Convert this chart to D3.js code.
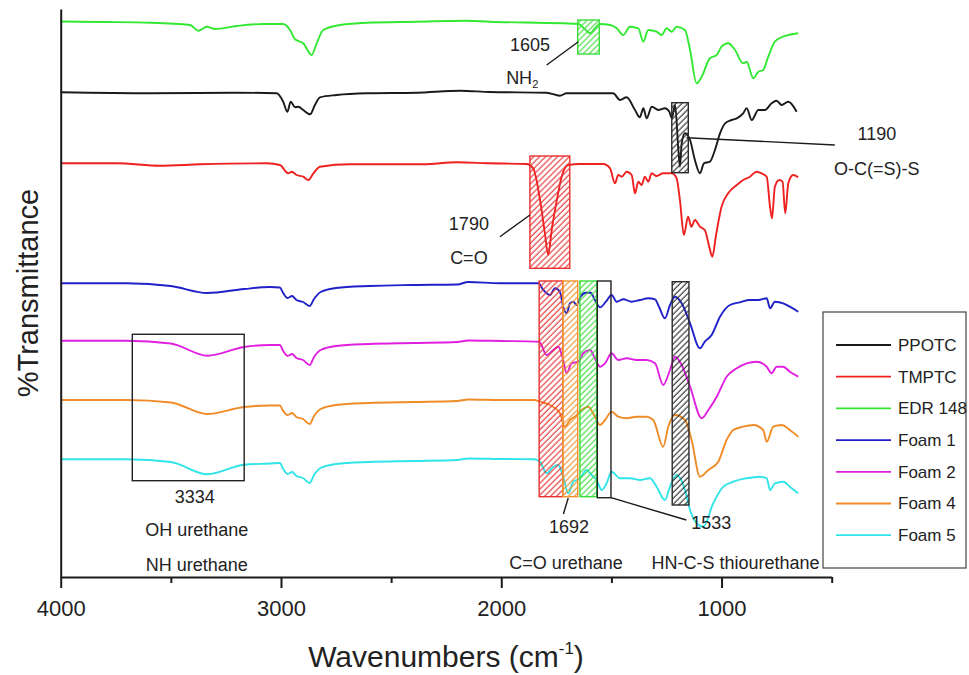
<!DOCTYPE html>
<html><head><meta charset="utf-8">
<script src="https://cdn.jsdelivr.net/npm/d3@7"></script>
<style>
body{margin:0;background:#fff}
svg{display:block}
text{font-family:"Liberation Sans",Arial,Helvetica,sans-serif;fill:#222}
</style>
</head><body>
<svg id="chart" width="969" height="675"></svg>
<script>
// ---------------- DATA (wavenumber cm-1, transmittance a.u. with stacking offsets) ----------------
const seriesNames = ["PPOTC","TMPTC","EDR 148","Foam 1","Foam 2","Foam 4","Foam 5"];

const ppotc = [[4000,484.7],[3595,483.7],[3200,484.3],[3020,483.7],[2990,475.3],[2971,465.3],[2956,475.3],[2936,469.7],[2921,470.3],[2899,467],[2868,462.7],[2846,472],[2823,479.7],[2747,482],[2611,483.7],[2384,484.3],[2187,486.3],[2051,485],[1794,484.3],[1734,481.3],[1703,483.7],[1492,483.7],[1461,477],[1431,479.7],[1393,467],[1371,459.7],[1355,468.7],[1340,458.7],[1317,470.3],[1287,467],[1257,468.7],[1237,465.3],[1226,458.7],[1211,472],[1196,427],[1189,410.3],[1181,433.7],[1166,443.7],[1143,437],[1121,417],[1098,403.7],[1080,413.7],[1053,415.3],[1030,427],[1007,443.7],[984,453.7],[954,457],[931,458.7],[902,463.7],[886,468.7],[863,457],[833,467],[803,467],[773,473.7],[750,476.3],[727,472],[697,475.3],[659,465.3]];

const tmptc = [[4000,413.7],[3746,413.7],[3549,411.3],[3368,412.7],[3065,413.7],[3005,412],[2967,403.7],[2951,405.3],[2929,402],[2899,400.3],[2876,397],[2853,403.7],[2823,410.3],[2687,412.7],[2354,412.7],[2202,414.7],[2051,413.7],[1885,413],[1855,408.7],[1824,377],[1802,343.7],[1787,322],[1771,347],[1749,375.3],[1726,400.3],[1696,412],[1643,413],[1537,413],[1506,408.7],[1484,393.7],[1469,402],[1453,400.3],[1431,405.3],[1408,402],[1393,383.7],[1378,395.3],[1363,392],[1348,400.3],[1333,395.3],[1317,403.7],[1295,401],[1265,403.7],[1226,403.7],[1204,398.7],[1189,377],[1171,342],[1152,360.3],[1137,350.3],[1121,357],[1098,350.3],[1076,347],[1056,330.3],[1042,320.3],[1025,342],[1000,370.3],[970,383.7],[931,392],[902,397],[871,400.3],[841,405.3],[818,403.7],[795,400.3],[780,370.3],[771,358.7],[758,390.3],[738,397],[723,395.3],[711,363.7],[697,393.7],[675,402],[652,399.7]];

const edr148 = [[4000,555.5],[3800,555],[3595,554.3],[3413,552],[3375,546.3],[3337,550.3],[3300,548],[3201,551],[3080,553],[2990,553],[2959,547],[2936,537.7],[2899,533.7],[2861,522],[2838,533.7],[2808,547],[2732,552],[2611,554.3],[2384,555.3],[2157,556.3],[2051,555.3],[1719,553.7],[1650,553],[1620,547.7],[1597,543.7],[1575,548.7],[1552,553],[1506,552],[1476,548.7],[1446,542],[1416,550.3],[1378,548.7],[1355,535.3],[1333,547],[1295,545.3],[1272,542],[1249,548.7],[1226,545.3],[1204,550.3],[1166,547],[1143,527],[1113,493.7],[1090,500.3],[1053,518.7],[1022,522],[1000,530.3],[970,533.7],[939,527],[902,513.7],[886,515.3],[856,498.7],[833,505.3],[811,507],[788,520.3],[758,535.3],[720,540.3],[652,543.7]];

const foam1 = [[4000,293.7],[3700,293.7],[3500,291],[3334,284],[3168,288],[3050,290],[3005,289.5],[2990,284],[2970,279],[2950,281],[2930,277],[2900,275],[2870,271],[2850,278],[2820,285],[2750,289],[2600,291],[2400,292],[2200,292.5],[2150,295],[2006,293.7],[1832,293.7],[1809,287],[1779,282],[1756,288.7],[1734,285.3],[1719,270.3],[1703,263.7],[1688,273.7],[1673,275.3],[1658,272],[1640,280.3],[1616,284.3],[1594,284.3],[1575,277],[1552,269.7],[1525,275.3],[1499,282],[1476,275.3],[1446,277.7],[1408,275.3],[1370,277],[1333,278.7],[1302,277.7],[1283,269.7],[1257,258.7],[1234,272],[1211,280.3],[1181,273.7],[1143,253.7],[1098,228.7],[1076,235.3],[1045,242],[1007,260.3],[962,272],[917,274.7],[871,277],[833,277],[795,278.7],[780,268.7],[758,275.3],[720,273.7],[690,270.3],[652,265.3]];

const foam2 = [[4000,236.3],[3700,236.3],[3500,233.5],[3334,221.3],[3168,230],[3050,232],[3005,232],[2990,226],[2970,221],[2950,223],[2930,219],[2900,217],[2870,212],[2850,220],[2820,227],[2750,231],[2600,233],[2400,234],[2200,235],[2150,236.5],[2000,236],[1828,235.3],[1794,222],[1764,227],[1741,230.3],[1719,217],[1703,203.7],[1681,213.7],[1650,215.3],[1628,223.7],[1597,227],[1575,218.7],[1552,210.3],[1529,213.7],[1499,223.7],[1469,217],[1431,218.7],[1385,217],[1340,217],[1302,213.7],[1265,192],[1234,207],[1211,220.3],[1181,212],[1143,190.3],[1090,158.7],[1060,167],[1022,180.3],[977,200.3],[931,208.7],[886,213.7],[841,215.3],[795,210.3],[773,203.7],[750,210.3],[720,210.3],[690,205.3],[652,200.3]];

const foam4 = [[4000,177],[3700,177],[3500,174.5],[3334,163],[3168,170],[3050,171.5],[3005,171.5],[2990,166],[2970,162],[2950,164],[2930,160],[2900,158],[2870,153],[2850,161],[2820,168],[2750,172],[2600,174],[2400,175],[2200,176],[2150,177.5],[2000,177],[1850,177],[1824,175.3],[1779,172],[1734,163.7],[1711,150.3],[1688,157],[1666,160.3],[1635,167],[1605,170.3],[1575,160.3],[1552,152],[1529,157],[1499,165.3],[1469,160.3],[1431,158.7],[1385,160.3],[1340,160.3],[1310,157],[1265,130.3],[1242,150.3],[1211,162],[1166,157],[1136,137],[1098,100.3],[1060,107],[1015,115.3],[977,137],[947,147],[902,150.3],[856,152],[811,147],[795,135.3],[765,150.3],[727,152],[690,147],[652,140.3]];

const foam5 = [[4000,117.7],[3700,117.7],[3500,115],[3334,102.7],[3168,112.3],[3050,113.5],[3005,114],[2990,108],[2970,103],[2950,105],[2930,101],[2900,99],[2870,94],[2850,102],[2820,109],[2750,113],[2600,115],[2400,116],[2200,117],[2150,118.5],[2000,118],[1850,117.7],[1824,115.3],[1794,103.7],[1764,110.3],[1741,112],[1719,100.3],[1696,83.7],[1673,95.3],[1643,98.7],[1613,107],[1590,102],[1567,97],[1544,87],[1522,93.7],[1499,105.3],[1461,98.7],[1416,98.7],[1370,97],[1325,98.7],[1295,90.3],[1257,77],[1234,90.3],[1204,102],[1166,87],[1143,67],[1113,53.7],[1083,50.3],[1038,73.7],[992,90.3],[947,95.3],[886,98.7],[826,100.3],[795,98.7],[780,87],[758,93.7],[720,95.3],[690,90.3],[652,83.7]];

const seriesData = [ppotc, tmptc, edr148, foam1, foam2, foam4, foam5];

const xTickValues = [4000,3000,2000,1000];
const xMinorTickValues = [3500,2500,1500,500];

// marked bands: [wnStart, wnEnd], [top, bottom]
const bandBoxes = [
  {key:"box3334", wn:[3675,3167], t:[242.7,96.3], hatch:false},
  {key:"red",     wn:[1870,1689], t:[421,308.7],  hatch:true},
  {key:"green",   wn:[1653,1555], t:[557,523],    hatch:true},
  {key:"black",   wn:[1226,1151], t:[474.3,404.3],hatch:true},
  {key:"red",     wn:[1828,1721], t:[296,80.3],   hatch:true},
  {key:"orange",  wn:[1721,1653], t:[296,80.3],   hatch:true},
  {key:"green",   wn:[1643,1567], t:[296,80.3],   hatch:true},
  {key:"box1533", wn:[1564,1502], t:[296,79.3],   hatch:false},
  {key:"black",   wn:[1224,1148], t:[295.3,72],   hatch:true}
];

const leaderLines = [
  [[1794,512],[1650,535.3]],
  [[1159,439.3],[486,432]],
  [[2006,340.3],[1870,362]],
  [[1696,79],[1718,63]],
  [[1502,79.3],[1160,57]]
];

const labels = [
  {text:"1605", wn:1870, t:532},
  {text:"NH", sub:"2", wn:1905, t:499},
  {text:"1190", wn:295, t:443.7},
  {text:"O-C(=S)-S", wn:295, t:408.7},
  {text:"1790", wn:2147, t:353},
  {text:"C=O", wn:2147, t:319},
  {text:"3334", wn:3391, t:80.3},
  {text:"OH urethane", wn:3382, t:47},
  {text:"NH urethane", wn:3382, t:12},
  {text:"1692", wn:1693, t:50},
  {text:"1533", wn:1047, t:54},
  {text:"C=O urethane", wn:1706, t:14},
  {text:"HN-C-S thiourethane", wn:937, t:14}
];

// ---------------- STYLE ----------------
const seriesColors = ["#1a1a1a","#ee2020","#33e833","#2020c8","#e020e0","#f08c28","#30e4e8"];
const boxColors = {box3334:"#222", red:"#e83030", green:"#3cdc3c", black:"#2a2a2a", orange:"#f0922c", box1533:"#222"};

// ---------------- CHART ----------------
const svg = d3.select("#chart");
const x = d3.scaleLinear().domain([4000,500]).range([60.7,831.7]);
const y = d3.scaleLinear().domain([0,568]).range([577,9]);

const defs = svg.append("defs");
Object.entries(boxColors).forEach(([k,c])=>{
  const p = defs.append("pattern").attr("id","hatch-"+k)
    .attr("patternUnits","userSpaceOnUse").attr("width",4.2).attr("height",4.2)
    .attr("patternTransform","rotate(45)");
  p.append("line").attr("x1",1).attr("y1",0).attr("x2",1).attr("y2",4.2)
    .attr("stroke",c).attr("stroke-width",1.1);
});

// spectra
const line = d3.line().x(d=>x(d[0])).y(d=>y(d[1])).curve(d3.curveMonotoneX);
svg.append("g").selectAll("path").data(seriesData).join("path")
  .attr("d",line).attr("fill","none")
  .attr("stroke",(d,i)=>seriesColors[i]).attr("stroke-width",1.9)
  .attr("stroke-linejoin","round");

// band boxes
svg.append("g").selectAll("rect").data(bandBoxes).join("rect")
  .attr("x",d=>x(d.wn[0])).attr("width",d=>x(d.wn[1])-x(d.wn[0]))
  .attr("y",d=>y(d.t[0])).attr("height",d=>y(d.t[1])-y(d.t[0]))
  .attr("fill",d=>d.hatch?`url(#hatch-${d.key})`:"none")
  .attr("stroke",d=>boxColors[d.key]).attr("stroke-width",1.4);

// leader lines
svg.append("g").selectAll("line").data(leaderLines).join("line")
  .attr("x1",d=>x(d[0][0])).attr("y1",d=>y(d[0][1]))
  .attr("x2",d=>x(d[1][0])).attr("y2",d=>y(d[1][1]))
  .attr("stroke","#1a1a1a").attr("stroke-width",1.4);

// labels
const lab = svg.append("g").selectAll("text").data(labels).join("text")
  .attr("x",d=>x(d.wn)).attr("y",d=>y(d.t)).attr("dy","0.35em")
  .attr("text-anchor","middle").attr("font-size",18);
lab.append("tspan").text(d=>d.text);
lab.filter(d=>d.sub).append("tspan").attr("font-size",11).attr("dy","0.35em").text(d=>d.sub);

// axes
const gx = svg.append("g").attr("transform","translate(0,577)");
gx.call(d3.axisBottom(x).tickValues(xTickValues).tickSize(11).tickSizeOuter(0).tickPadding(12).tickFormat(d3.format("d")));
gx.append("g").call(d3.axisBottom(x).tickValues(xMinorTickValues).tickSize(6).tickFormat(""))
  .select(".domain").remove();
gx.selectAll("path,line").attr("stroke","#1a1a1a").attr("stroke-width",2);
gx.selectAll("text").attr("font-size",22).attr("fill","#222")
  .style("font-family",'"Liberation Sans",Arial,sans-serif');

const gy = svg.append("g").attr("transform","translate(60.7,0)");
gy.call(d3.axisLeft(y).tickValues([]).tickSizeOuter(0));
gy.selectAll("path").attr("stroke","#1a1a1a").attr("stroke-width",2);

// axis titles
const xt = svg.append("text").attr("x",446).attr("y",667).attr("text-anchor","middle").attr("font-size",30);
xt.append("tspan").text("Wavenumbers (cm");
xt.append("tspan").attr("font-size",17).attr("dy","-13").text("-1");
xt.append("tspan").attr("dy","13").text(")");

svg.append("text").attr("transform","translate(38,293) rotate(-90)")
  .attr("text-anchor","middle").attr("font-size",29).text("%Transmittance");

// legend
const lg = svg.append("g").attr("transform","translate(823,312)");
lg.append("rect").attr("width",143).attr("height",256).attr("fill","#fff")
  .attr("stroke","#444").attr("stroke-width",1.2);
const items = lg.selectAll("g.it").data(seriesNames).join("g").attr("class","it")
  .attr("transform",(d,i)=>`translate(0,${33+i*31.7})`);
items.append("line").attr("x1",13).attr("x2",68).attr("stroke",(d,i)=>seriesColors[i]).attr("stroke-width",1.8);
items.append("text").attr("x",75).attr("dy","0.35em").attr("font-size",17).text(d=>d);
</script>
</body></html>
